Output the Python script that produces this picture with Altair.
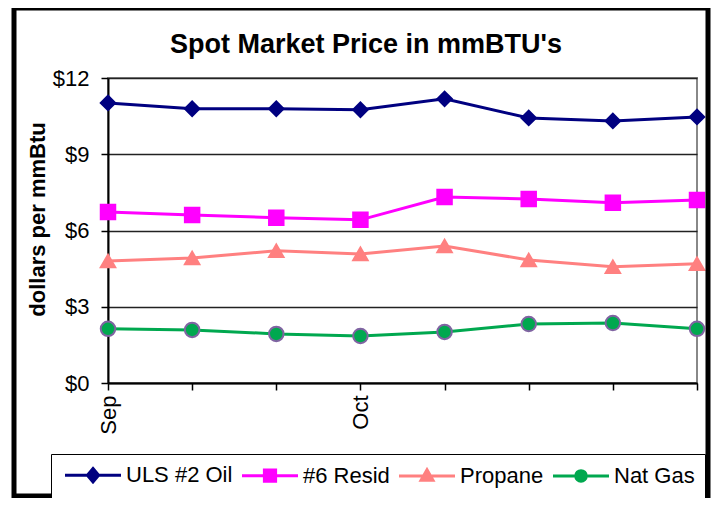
import altair as alt
import pandas as pd

# ---- data ----
tick_labels = ["Sep", "", "", "Oct", "", "", "", ""]
series_names = ["ULS #2 Oil", "#6 Resid", "Propane", "Nat Gas"]
uls_oil = [11.02, 10.79, 10.79, 10.75, 11.18, 10.43, 10.31, 10.47]
resid6 = [6.73, 6.61, 6.50, 6.42, 7.32, 7.24, 7.09, 7.20]
propane = [4.80, 4.92, 5.20, 5.08, 5.39, 4.84, 4.57, 4.69]
nat_gas = [2.13, 2.09, 1.93, 1.85, 2.01, 2.32, 2.36, 2.13]
chart_title = "Spot Market Price in mmBTU's"

line_colors = ["#000080", "#FF00FF", "#FF8080", "#00A84F"]
marker_fill = ["#000080", "#FF00FF", "#FF8080", "#00A84F"]
marker_stroke = ["#000080", "#FF00FF", "#FF8080", "#8064A2"]
marker_shapes = ["diamond", "square", "triangle-up", "circle"]

# legend symbols: a line stub with the marker on it
legend_paths = [
    "M-4,0H4M0,-0.95L0.8,0L0,0.95L-0.8,0Z",
    "M-4,0H4M-0.8,-0.8H0.8V0.8H-0.8Z",
    "M-4,0H4M0,-0.9L0.85,0.6L-0.85,0.6Z",
    "M-4,0H4M-0.75,0A0.75,0.75 0 1,0 0.75,0A0.75,0.75 0 1,0 -0.75,0Z",
]

rows = []
for name, vals in zip(series_names, [uls_oil, resid6, propane, nat_gas]):
    for i, v in enumerate(vals):
        rows.append({"idx": i, "series": name, "price": v})
df = pd.DataFrame(rows)

FONT = "Liberation Sans"
label_expr = " : ".join(
    f"datum.value == {i} ? '{t}'" for i, t in enumerate(tick_labels) if t
) + " : ''"

x_enc = alt.X(
    "idx:Q",
    scale=alt.Scale(domain=[0, len(tick_labels) - 1], nice=False, zero=False),
    axis=alt.Axis(
        values=list(range(len(tick_labels))),
        labelExpr=label_expr,
        labelAngle=270,
        labelAlign="right",
        labelBaseline="middle",
        labelFontSize=22,
        labelPadding=5,
        labelColor="black",
        tickSize=7,
        tickColor="black",
        tickWidth=1.5,
        domainColor="black",
        domainWidth=2,
        grid=False,
        title=None,
    ),
)
y_enc = alt.Y(
    "price:Q",
    scale=alt.Scale(domain=[0, 12], nice=False),
    axis=alt.Axis(
        values=[0, 3, 6, 9, 12],
        format="$.0f",
        labelFontSize=22,
        labelPadding=12,
        labelColor="black",
        tickSize=7,
        tickColor="black",
        tickWidth=1.5,
        domainColor="black",
        domainWidth=2,
        gridColor="#222222",
        gridWidth=1.6,
        title="dollars per mmBtu",
        titleFontSize=22,
        titleFontWeight="bold",
        titleColor="black",
        titlePadding=3,
        titleY=141,
    ),
)

color_scale = alt.Scale(domain=series_names, range=line_colors)

lines = alt.Chart(df).mark_line(strokeWidth=3).encode(
    x=x_enc,
    y=y_enc,
    color=alt.Color("series:N", scale=color_scale, legend=None),
    detail="series:N",
)

points = alt.Chart(df).mark_point(filled=True, size=210, strokeWidth=2, opacity=1).encode(
    x=x_enc,
    y=y_enc,
    shape=alt.Shape("series:N", scale=alt.Scale(domain=series_names, range=marker_shapes), legend=None),
    fill=alt.Fill("series:N", scale=alt.Scale(domain=series_names, range=marker_fill), legend=None),
    stroke=alt.Stroke("series:N", scale=alt.Scale(domain=series_names, range=marker_stroke), legend=None),
)

legend_spec = alt.Legend(
    title=None,
    orient="none",
    legendX=-57,
    legendY=376,
    direction="horizontal",
    columns=4,
    columnPadding=3,
    labelFontSize=22,
    labelFont=FONT,
    labelColor="black",
    labelLimit=300,
    labelOffset=22,
    symbolSize=196,
    symbolOffset=21,
    symbolStrokeWidth=3,
    symbolOpacity=1,
    strokeColor="black",
    fillColor="white",
    padding=10,
)

legend_layer = alt.Chart(df).transform_filter("false").mark_point(
    filled=True, size=196, strokeWidth=3, opacity=1
).encode(
    x=x_enc,
    y=y_enc,
    shape=alt.Shape("series:N", scale=alt.Scale(domain=series_names, range=legend_paths), legend=legend_spec),
    fill=alt.Fill("series:N", scale=alt.Scale(domain=series_names, range=line_colors), legend=legend_spec),
    stroke=alt.Stroke("series:N", scale=alt.Scale(domain=series_names, range=line_colors), legend=legend_spec),
)

one_row = alt.Data(values=[{"k": 1}])

frame = alt.Chart(one_row).mark_rect(
    fillOpacity=0, stroke="black", strokeWidth=5
).encode(
    x=alt.value(-94), x2=alt.value(600), y=alt.value(-70), y2=alt.value(418)
)

title_mark = alt.Chart(one_row).mark_text(
    text=chart_title,
    font=FONT,
    fontSize=27,
    fontWeight="bold",
    color="black",
    align="center",
    baseline="alphabetic",
).encode(x=alt.value(258), y=alt.value(-25))

chart = (
    alt.layer(lines, points, legend_layer, frame, title_mark)
    .resolve_scale(shape="independent", fill="independent", stroke="independent")
    .properties(
        width=589,
        height=305,
        autosize=alt.AutoSizeParams(type="none"),
        padding={"left": 100, "top": 70, "right": 14, "bottom": 115},
    )
    .configure(font=FONT)
    .configure_view(stroke="#888888", strokeWidth=2)
    .configure_axis(labelFont=FONT, titleFont=FONT)
)

chart.save("out.html", embed_options={"renderer": "svg", "actions": False})
